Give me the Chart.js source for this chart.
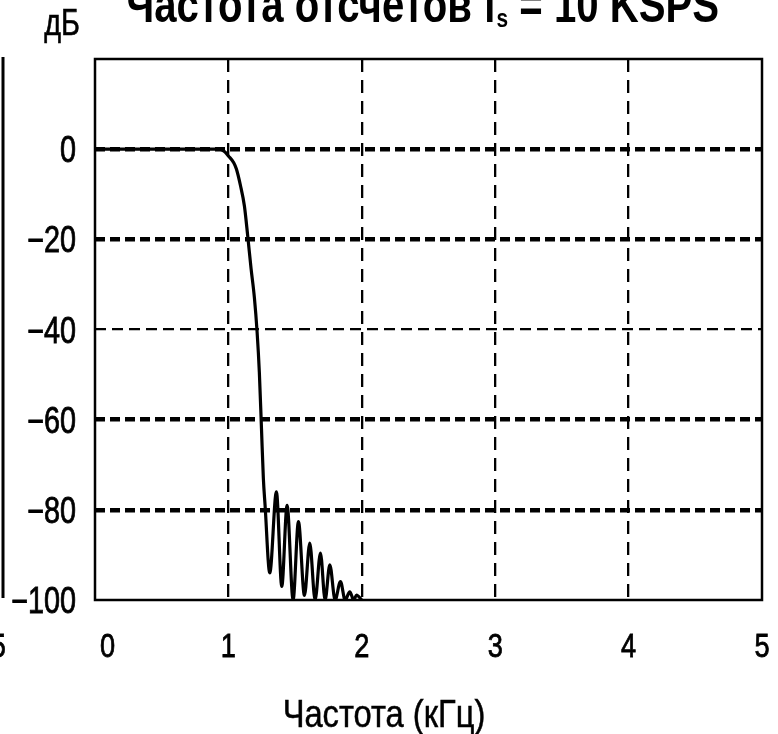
<!DOCTYPE html>
<html>
<head>
<meta charset="utf-8">
<script src="https://cdn.jsdelivr.net/npm/chart.js@4.4.1/dist/chart.umd.min.js"></script>
<style>
  html, body { margin: 0; padding: 0; background: #fff; }
  #wrap { width: 778px; height: 734px; }
</style>
</head>
<body>
<div id="wrap"><canvas id="chart" width="778" height="734"></canvas></div>
<script>
// --- данные ---
const freqKHz = [0, 0.5, 0.93, 0.97, 1.0, 1.04, 1.06, 1.09, 1.12, 1.145, 1.17, 1.195, 1.215, 1.232, 1.248,
  1.262, 1.275, 1.31, 1.36, 1.40, 1.44, 1.485, 1.525, 1.57, 1.61, 1.65, 1.69, 1.725, 1.76, 1.80,
  1.84, 1.875, 1.91, 1.94, 1.96, 2.0];
const gainDb = [0, 0, 0, -0.5, -1.5, -3, -4.4, -8, -12.6, -19.3, -26.5, -33, -40.5, -49.5, -62,
  -73, -79, -94, -76, -97, -79, -100, -82.6, -99, -87.4, -100, -89.6, -100, -92.2, -100,
  -95.9, -100, -98.2, -100, -98.9, -100];

const xTickValues = [0, 1, 2, 3, 4, 5];
const xTickLabels = ['0', '1', '2', '3', '4', '5'];
const yTickValues = [0, -20, -40, -60, -80, -100];
const yTickLabels = ['0', '\u221220', '\u221240', '\u221260', '\u221280', '\u2212100'];

const chartTitle = 'Частота отсчетов f';
const chartTitleSub = 's';
const chartTitleRest = ' = 10 KSPS';
const yUnit = 'дБ';
const xTitle = 'Частота (кГц)';

// --- стиль ---
const FONT = '"Liberation Sans", Arial, sans-serif';
const SQUEEZE = 0.8; // узкий шрифт как Arial Narrow
const boldGrid = [0, -20, -60, -80];

const points = freqKHz.map((f, i) => ({ x: f, y: gainDb[i] }));

// текст со сжатием по горизонтали (чуть обведён, как на скане)
function narrowText(ctx, text, x, y, align, font, sx, stroke) {
  ctx.save();
  ctx.font = font;
  ctx.textAlign = align;
  ctx.textBaseline = 'alphabetic';
  ctx.translate(x, y);
  ctx.scale(sx, 1);
  ctx.fillText(text, 0, 0);
  if (stroke) {
    ctx.strokeStyle = '#000';
    ctx.lineWidth = stroke;
    ctx.strokeText(text, 0, 0);
  }
  ctx.restore();
}

const decor = {
  id: 'decor',
  beforeDatasetsDraw(chart) {
    const { ctx, chartArea: a } = chart;
    ctx.save();
    ctx.strokeStyle = '#000';
    ctx.lineWidth = 2.5;
    ctx.strokeRect(a.left, a.top, a.right - a.left, a.bottom - a.top);
    ctx.restore();
  },
  afterDraw(chart) {
    const { ctx } = chart;
    const xs = chart.scales.x, ys = chart.scales.y;
    ctx.save();
    ctx.fillStyle = '#000';

    // подписи делений
    const tickFont = '36px ' + FONT;
    yTickValues.forEach((v, i) => {
      narrowText(ctx, yTickLabels[i], 76, ys.getPixelForValue(v) + 13, 'right', tickFont, SQUEEZE, 0.8);
    });
    xTickValues.forEach((v, i) => {
      const px = xs.getPixelForValue(v);
      if (i === 0) narrowText(ctx, xTickLabels[i], px + 5, 657, 'left', '34px ' + FONT, SQUEEZE, 0.8);
      else narrowText(ctx, xTickLabels[i], px, 657, 'center', '34px ' + FONT, SQUEEZE, 0.8);
    });

    // заголовок с индексом, ширина как на оригинале
    const mainFont = 'bold 50px ' + FONT;
    const subFont = 'bold 26px ' + FONT;
    ctx.font = mainFont;
    const w1 = ctx.measureText(chartTitle).width;
    const w3 = ctx.measureText(chartTitleRest).width;
    ctx.font = subFont;
    const w2 = ctx.measureText(chartTitleSub).width;
    const sx = 593 / (w1 + w2 + w3);
    const x0 = 126;
    narrowText(ctx, chartTitle, x0, 22, 'left', mainFont, sx);
    narrowText(ctx, chartTitleSub, x0 + w1 * sx, 27, 'left', subFont, sx);
    narrowText(ctx, chartTitleRest, x0 + (w1 + w2) * sx, 22, 'left', mainFont, sx);

    // единицы по оси Y и подпись оси X
    narrowText(ctx, yUnit, 62, 35, 'center', '36px ' + FONT, 0.8, 0.6);
    narrowText(ctx, xTitle, 384, 727, 'center', '38px ' + FONT, 0.86, 0.5);

    // край соседнего графика слева
    ctx.strokeStyle = '#000';
    ctx.lineWidth = 3;
    ctx.beginPath();
    ctx.moveTo(3, 57);
    ctx.lineTo(3, 598);
    ctx.stroke();
    narrowText(ctx, '5', 6, 657, 'right', '34px ' + FONT, SQUEEZE, 0.8);
    ctx.restore();
  }
};

new Chart(document.getElementById('chart'), {
  type: 'line',
  data: {
    datasets: [{
      data: points,
      borderColor: '#000',
      borderWidth: 3.2,
      pointRadius: 0,
      fill: false,
      cubicInterpolationMode: 'monotone'
    }]
  },
  options: {
    responsive: false,
    animation: false,
    layout: { padding: { top: 59, right: 16, left: 0, bottom: 0 } },
    plugins: { legend: { display: false }, tooltip: { enabled: false }, title: { display: false } },
    scales: {
      x: {
        type: 'linear',
        min: 0,
        max: 5,
        afterBuildTicks: s => { s.ticks = xTickValues.map(v => ({ value: v })); },
        afterFit: s => { s.height = 134; s.paddingLeft = 0; s.paddingRight = 0; },
        ticks: { display: false },
        grid: {
          color: '#000',
          drawTicks: false,
          lineWidth: c => (c.tick && c.tick.value > 0 && c.tick.value < 5) ? 2.3 : 0
        },
        border: { display: false, dash: [13, 8] }
      },
      y: {
        type: 'linear',
        min: -100,
        max: 20,
        afterBuildTicks: s => { s.ticks = yTickValues.map(v => ({ value: v })); },
        afterFit: s => { s.width = 95; s.paddingTop = 0; s.paddingBottom = 0; },
        ticks: { display: false },
        grid: {
          color: '#000',
          drawTicks: false,
          lineWidth: c => {
            if (!c.tick || c.tick.value === -100) return 0;
            return boldGrid.includes(c.tick.value) ? 4.5 : 2.2;
          }
        },
        border: {
          display: false,
          dash: c => (c.tick && boldGrid.includes(c.tick.value)) ? [10, 5] : [11, 6]
        }
      }
    }
  },
  plugins: [decor]
});
</script>
</body>
</html>
